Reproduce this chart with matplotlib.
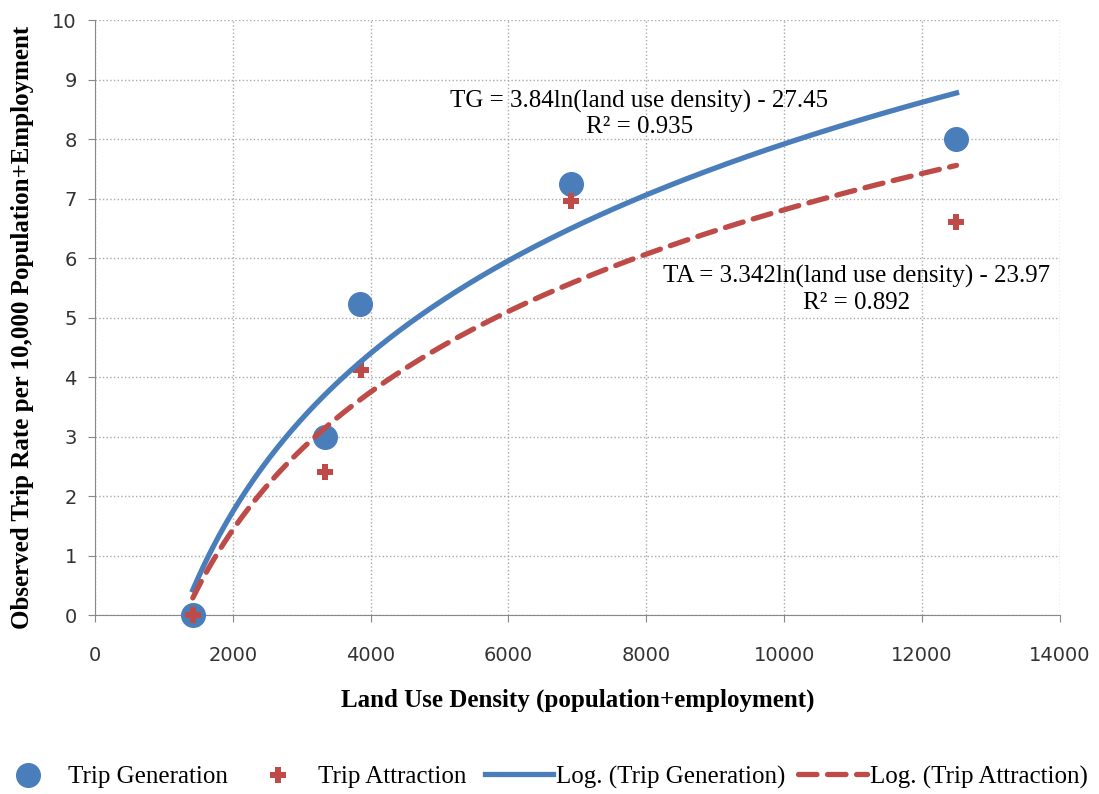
import numpy as np
import matplotlib.pyplot as plt

# observed data (land use density, trip rate)
tg_x = [1420, 3340, 3850, 6900, 12500]
tg_y = [0.0, 3.0, 5.22, 7.25, 8.0]
ta_x = [1420, 3340, 3860, 6900, 12500]
ta_y = [0.0, 2.4, 4.12, 6.95, 6.6]

# log trend coefficients from the chart labels
tg_a, tg_b = 3.84, -27.45
ta_a, ta_b = 3.342, -23.97

blue = "#4a7ebb"
red = "#be4b48"
serif = ["Liberation Serif", "DejaVu Serif"]

fig = plt.figure(figsize=(10.99, 7.94), dpi=100)
ax = fig.add_axes([0.0864, 0.2254, 0.878, 0.7494])

xs = np.linspace(min(tg_x), max(tg_x), 300)

p1, = ax.plot(tg_x, tg_y, "o", color=blue, markersize=17, label="Trip Generation",
              zorder=3, clip_on=False)
p2, = ax.plot(ta_x, ta_y, "P", color=red, markersize=11, markeredgewidth=0,
              label="Trip Attraction", zorder=3, clip_on=False)
l1, = ax.plot(xs, tg_a*np.log(xs) + tg_b, "-", color=blue, lw=3.8,
              label="Log. (Trip Generation)", zorder=4)
l2, = ax.plot(xs, ta_a*np.log(xs) + ta_b, "--", color=red, lw=3.8, dashes=(3.5, 2),
              dash_capstyle="round", label="Log. (Trip Attraction)", zorder=4)

ax.set_xlim(0, 14000)
ax.set_ylim(0, 10)
ax.set_xticks(np.arange(0, 14001, 2000))
ax.set_yticks(np.arange(0, 11, 1))
ax.grid(True, color="#aaaaaa", linestyle=":", linewidth=1)
ax.set_axisbelow(True)
for s in ["top", "right"]:
    ax.spines[s].set_visible(False)
for s in ["left", "bottom"]:
    ax.spines[s].set_color("#888888")
ax.tick_params(colors="#888888", labelcolor="#333333", labelsize=14, length=5)
ax.tick_params(axis="x", pad=17)
ax.tick_params(axis="y", pad=8)

ax.set_xlabel("Land Use Density (population+employment)", family=serif, fontsize=18,
              fontweight="bold", labelpad=17)
ax.set_ylabel("Observed Trip Rate per 10,000 Population+Employment", family=serif,
              fontsize=18, fontweight="bold", labelpad=13)
ax.yaxis.label.set_y(0.484)

ax.text(7900, 8.42, "TG = 3.84ln(land use density) - 27.45\nR² = 0.935", family=serif,
        fontsize=18, ha="center", va="center", linespacing=1.2)
ax.text(11050, 5.47, "TA = 3.342ln(land use density) - 23.97\nR² = 0.892", family=serif,
        fontsize=18, ha="center", va="center", linespacing=1.2)

leg_prop = {"family": serif, "size": 18}
fig.legend(handles=[p1, p2], loc="center left", bbox_to_anchor=(0.003, 0.0214), ncol=2,
           frameon=False, prop=leg_prop, handlelength=2, handletextpad=0.6,
           columnspacing=1.0, borderpad=0, borderaxespad=0)
fig.legend(handles=[l1, l2], loc="center left", bbox_to_anchor=(0.441, 0.0214), ncol=2,
           frameon=False, prop=leg_prop, handlelength=2.75, handletextpad=0.12,
           columnspacing=0.5, borderpad=0, borderaxespad=0)

fig.savefig("out.png", dpi=100)
